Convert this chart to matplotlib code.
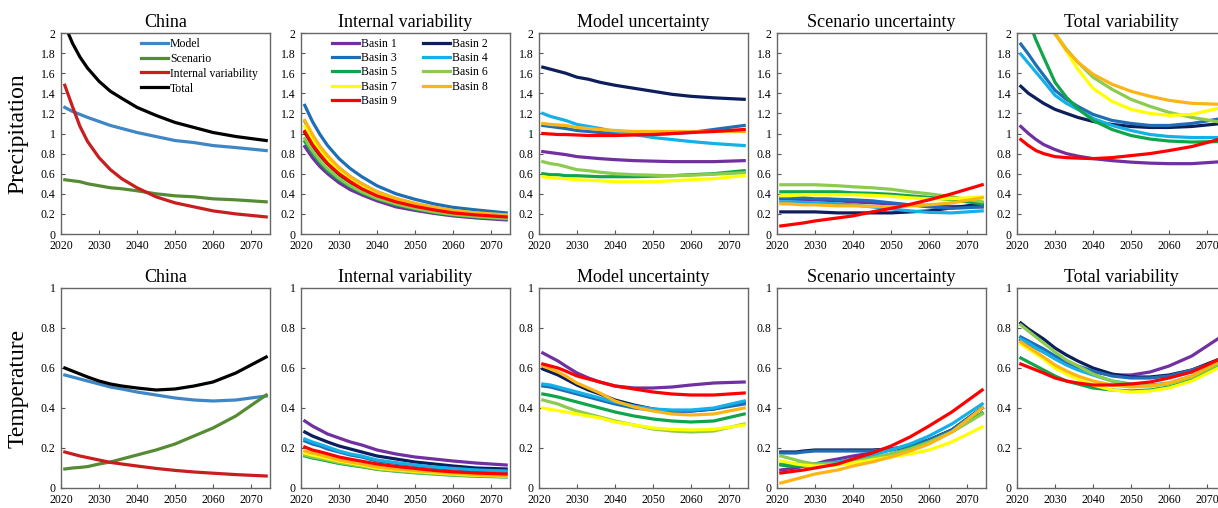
import numpy as np
import matplotlib.pyplot as plt

plt.rcParams['font.family'] = ['Liberation Serif', 'DejaVu Serif']

years = [2021, 2023, 2025, 2027, 2030, 2033, 2036, 2040, 2045, 2050, 2055, 2060, 2066, 2074]

# China, precipitation
pr_china_model = [1.26, 1.22, 1.19, 1.16, 1.12, 1.08, 1.05, 1.01, 0.97, 0.93, 0.91, 0.88, 0.86, 0.83]
pr_china_scenario = [0.54, 0.53, 0.52, 0.50, 0.48, 0.46, 0.45, 0.43, 0.40, 0.38, 0.37, 0.35, 0.34, 0.32]
pr_china_internal = [1.48, 1.27, 1.07, 0.92, 0.76, 0.64, 0.55, 0.46, 0.37, 0.31, 0.27, 0.23, 0.20, 0.17]
pr_china_total = [2.08, 1.90, 1.76, 1.65, 1.52, 1.42, 1.35, 1.26, 1.18, 1.11, 1.06, 1.01, 0.97, 0.93]

# China, temperature
tas_china_model = [0.565, 0.555, 0.545, 0.535, 0.52, 0.505, 0.495, 0.48, 0.465, 0.45, 0.44, 0.435, 0.44, 0.46]
tas_china_scenario = [0.095, 0.10, 0.103, 0.107, 0.12, 0.13, 0.145, 0.165, 0.19, 0.22, 0.26, 0.30, 0.36, 0.465]
tas_china_internal = [0.18, 0.17, 0.16, 0.152, 0.14, 0.128, 0.12, 0.11, 0.098, 0.088, 0.08, 0.074, 0.067, 0.06]
tas_china_total = [0.60, 0.585, 0.57, 0.555, 0.535, 0.52, 0.51, 0.50, 0.49, 0.495, 0.51, 0.53, 0.575, 0.655]

basin_names = ['Basin %d' % i for i in range(1, 10)]
basin_colors = ['#7030A0', '#0C1E5B', '#1F6EB5', '#14B0E8', '#10A54A',
                '#8DCB4E', '#FFFF00', '#FDB515', '#FF0000']

# basins 1..9, precipitation
pr_internal = [
    [0.87, 0.76, 0.67, 0.60, 0.51, 0.44, 0.39, 0.33, 0.27, 0.235, 0.205, 0.18, 0.16, 0.14],
    [1.01, 0.88, 0.78, 0.70, 0.59, 0.51, 0.45, 0.38, 0.32, 0.27, 0.24, 0.21, 0.19, 0.17],
    [1.28, 1.12, 0.99, 0.88, 0.75, 0.65, 0.57, 0.48, 0.40, 0.345, 0.30, 0.265, 0.24, 0.21],
    [1.12, 0.98, 0.87, 0.77, 0.66, 0.57, 0.50, 0.42, 0.35, 0.30, 0.265, 0.23, 0.21, 0.19],
    [0.92, 0.81, 0.71, 0.63, 0.54, 0.47, 0.41, 0.35, 0.29, 0.25, 0.215, 0.19, 0.17, 0.15],
    [0.95, 0.83, 0.73, 0.65, 0.555, 0.48, 0.42, 0.355, 0.30, 0.255, 0.22, 0.195, 0.175, 0.155],
    [1.07, 0.94, 0.83, 0.74, 0.63, 0.54, 0.48, 0.40, 0.335, 0.29, 0.25, 0.22, 0.20, 0.18],
    [1.13, 0.99, 0.87, 0.78, 0.66, 0.57, 0.50, 0.42, 0.355, 0.305, 0.265, 0.235, 0.21, 0.19],
    [1.02, 0.89, 0.79, 0.70, 0.60, 0.52, 0.45, 0.38, 0.32, 0.275, 0.24, 0.21, 0.19, 0.17],
]
pr_model = [
    [0.82, 0.81, 0.80, 0.79, 0.77, 0.76, 0.75, 0.74, 0.73, 0.725, 0.72, 0.72, 0.72, 0.73],
    [1.66, 1.64, 1.62, 1.60, 1.56, 1.54, 1.51, 1.48, 1.45, 1.42, 1.39, 1.37, 1.355, 1.34],
    [1.08, 1.07, 1.06, 1.05, 1.03, 1.02, 1.01, 1.00, 0.99, 0.99, 1.00, 1.01, 1.04, 1.08],
    [1.20, 1.17, 1.15, 1.13, 1.09, 1.07, 1.05, 1.02, 0.99, 0.96, 0.94, 0.92, 0.90, 0.88],
    [0.60, 0.59, 0.59, 0.58, 0.58, 0.575, 0.57, 0.57, 0.57, 0.575, 0.58, 0.59, 0.60, 0.63],
    [0.72, 0.70, 0.69, 0.67, 0.64, 0.63, 0.615, 0.60, 0.59, 0.585, 0.58, 0.585, 0.595, 0.61],
    [0.57, 0.56, 0.555, 0.55, 0.54, 0.535, 0.53, 0.52, 0.52, 0.52, 0.53, 0.54, 0.55, 0.58],
    [1.10, 1.09, 1.085, 1.08, 1.06, 1.05, 1.04, 1.03, 1.02, 1.02, 1.02, 1.02, 1.02, 1.02],
    [1.00, 0.995, 0.99, 0.99, 0.985, 0.98, 0.98, 0.98, 0.985, 0.99, 1.00, 1.01, 1.02, 1.04],
]
pr_scenario = [
    [0.35, 0.35, 0.345, 0.34, 0.34, 0.335, 0.33, 0.32, 0.31, 0.30, 0.29, 0.285, 0.275, 0.27],
    [0.22, 0.22, 0.22, 0.22, 0.22, 0.215, 0.21, 0.21, 0.21, 0.21, 0.22, 0.23, 0.26, 0.30],
    [0.36, 0.36, 0.36, 0.36, 0.35, 0.35, 0.345, 0.34, 0.33, 0.31, 0.29, 0.27, 0.255, 0.27],
    [0.32, 0.32, 0.32, 0.315, 0.31, 0.305, 0.30, 0.29, 0.27, 0.25, 0.23, 0.215, 0.21, 0.23],
    [0.42, 0.42, 0.42, 0.42, 0.42, 0.42, 0.42, 0.41, 0.405, 0.395, 0.38, 0.365, 0.34, 0.30],
    [0.49, 0.49, 0.49, 0.49, 0.49, 0.485, 0.48, 0.47, 0.46, 0.445, 0.42, 0.40, 0.37, 0.32],
    [0.38, 0.38, 0.385, 0.39, 0.39, 0.39, 0.39, 0.39, 0.385, 0.375, 0.36, 0.35, 0.35, 0.37],
    [0.30, 0.30, 0.295, 0.29, 0.29, 0.285, 0.28, 0.28, 0.275, 0.27, 0.28, 0.29, 0.31, 0.36],
    [0.08, 0.09, 0.10, 0.11, 0.13, 0.145, 0.16, 0.18, 0.22, 0.255, 0.295, 0.34, 0.40, 0.49],
]
pr_total = [
    [1.07, 1.00, 0.94, 0.89, 0.84, 0.80, 0.775, 0.75, 0.73, 0.715, 0.705, 0.70, 0.70, 0.72],
    [1.47, 1.40, 1.35, 1.30, 1.24, 1.20, 1.16, 1.12, 1.09, 1.07, 1.06, 1.06, 1.07, 1.10],
    [1.89, 1.79, 1.68, 1.58, 1.43, 1.34, 1.27, 1.19, 1.13, 1.10, 1.08, 1.08, 1.10, 1.15],
    [1.79, 1.70, 1.61, 1.52, 1.38, 1.30, 1.24, 1.15, 1.08, 1.03, 0.99, 0.97, 0.96, 0.96],
    [2.35, 2.13, 1.93, 1.76, 1.51, 1.36, 1.25, 1.13, 1.04, 0.98, 0.945, 0.925, 0.915, 0.92],
    [2.80, 2.55, 2.35, 2.20, 2.00, 1.84, 1.71, 1.56, 1.44, 1.34, 1.27, 1.21, 1.16, 1.11],
    [2.90, 2.60, 2.40, 2.22, 2.00, 1.82, 1.64, 1.45, 1.32, 1.24, 1.20, 1.18, 1.19, 1.26],
    [3.20, 2.90, 2.60, 2.35, 1.99, 1.83, 1.71, 1.59, 1.49, 1.42, 1.37, 1.33, 1.30, 1.29],
    [0.94, 0.88, 0.83, 0.80, 0.77, 0.76, 0.755, 0.75, 0.76, 0.78, 0.80, 0.83, 0.87, 0.95],
]

# basins 1..9, temperature
tas_internal = [
    [0.335, 0.31, 0.29, 0.27, 0.25, 0.23, 0.215, 0.19, 0.17, 0.155, 0.145, 0.135, 0.125, 0.115],
    [0.28, 0.26, 0.245, 0.23, 0.21, 0.195, 0.18, 0.16, 0.145, 0.13, 0.12, 0.11, 0.10, 0.095],
    [0.235, 0.22, 0.21, 0.195, 0.18, 0.165, 0.155, 0.135, 0.123, 0.112, 0.102, 0.095, 0.088, 0.083],
    [0.245, 0.23, 0.218, 0.205, 0.185, 0.17, 0.16, 0.14, 0.127, 0.115, 0.105, 0.098, 0.09, 0.085],
    [0.16, 0.15, 0.143, 0.135, 0.123, 0.114, 0.106, 0.093, 0.084, 0.076, 0.07, 0.064, 0.059, 0.055],
    [0.165, 0.155, 0.148, 0.14, 0.127, 0.118, 0.109, 0.095, 0.086, 0.078, 0.072, 0.066, 0.061, 0.057],
    [0.175, 0.165, 0.157, 0.148, 0.135, 0.125, 0.115, 0.10, 0.091, 0.083, 0.076, 0.07, 0.064, 0.06],
    [0.185, 0.175, 0.166, 0.156, 0.14, 0.13, 0.12, 0.105, 0.095, 0.087, 0.08, 0.074, 0.067, 0.062],
    [0.205, 0.19, 0.181, 0.171, 0.155, 0.144, 0.134, 0.12, 0.108, 0.098, 0.088, 0.081, 0.075, 0.07],
]
tas_model = [
    [0.675, 0.655, 0.635, 0.61, 0.575, 0.55, 0.53, 0.51, 0.50, 0.50, 0.505, 0.515, 0.525, 0.53],
    [0.595, 0.58, 0.565, 0.545, 0.515, 0.49, 0.47, 0.44, 0.415, 0.395, 0.385, 0.385, 0.395, 0.43],
    [0.51, 0.505, 0.495, 0.485, 0.47, 0.455, 0.44, 0.42, 0.40, 0.39, 0.385, 0.385, 0.395, 0.42],
    [0.52, 0.515, 0.505, 0.495, 0.48, 0.465, 0.45, 0.43, 0.41, 0.395, 0.39, 0.39, 0.40, 0.435],
    [0.47, 0.463, 0.455, 0.445, 0.43, 0.415, 0.40, 0.38, 0.36, 0.345, 0.335, 0.33, 0.335, 0.37],
    [0.44, 0.43, 0.42, 0.405, 0.385, 0.37, 0.355, 0.335, 0.315, 0.295, 0.285, 0.28, 0.285, 0.32],
    [0.40, 0.393, 0.387, 0.38, 0.37, 0.36, 0.35, 0.33, 0.315, 0.30, 0.293, 0.29, 0.293, 0.315],
    [0.61, 0.595, 0.58, 0.56, 0.525, 0.50, 0.475, 0.435, 0.405, 0.385, 0.37, 0.365, 0.37, 0.40],
    [0.62, 0.61, 0.60, 0.585, 0.56, 0.545, 0.53, 0.51, 0.495, 0.48, 0.47, 0.465, 0.465, 0.475],
]
tas_scenario = [
    [0.09, 0.095, 0.10, 0.11, 0.12, 0.135, 0.145, 0.16, 0.175, 0.19, 0.21, 0.24, 0.29, 0.40],
    [0.18, 0.18, 0.18, 0.185, 0.19, 0.19, 0.19, 0.19, 0.19, 0.195, 0.21, 0.24, 0.29, 0.40],
    [0.175, 0.175, 0.175, 0.18, 0.185, 0.185, 0.185, 0.185, 0.185, 0.195, 0.21, 0.24, 0.29, 0.40],
    [0.12, 0.12, 0.12, 0.12, 0.12, 0.125, 0.13, 0.145, 0.165, 0.19, 0.22, 0.26, 0.32, 0.42],
    [0.115, 0.11, 0.11, 0.11, 0.11, 0.115, 0.12, 0.13, 0.15, 0.17, 0.20, 0.23, 0.28, 0.375],
    [0.16, 0.15, 0.14, 0.13, 0.12, 0.12, 0.12, 0.13, 0.15, 0.17, 0.195, 0.23, 0.28, 0.37],
    [0.135, 0.128, 0.12, 0.115, 0.11, 0.112, 0.115, 0.125, 0.14, 0.155, 0.17, 0.19, 0.23, 0.305],
    [0.025, 0.035, 0.045, 0.055, 0.07, 0.08, 0.09, 0.11, 0.13, 0.155, 0.185, 0.22, 0.28, 0.40],
    [0.075, 0.08, 0.085, 0.09, 0.10, 0.11, 0.12, 0.145, 0.175, 0.21, 0.255, 0.31, 0.38, 0.49],
]
tas_total = [
    [0.74, 0.72, 0.70, 0.68, 0.65, 0.62, 0.60, 0.58, 0.565, 0.565, 0.58, 0.61, 0.66, 0.76],
    [0.825, 0.795, 0.77, 0.745, 0.70, 0.665, 0.635, 0.60, 0.57, 0.555, 0.555, 0.565, 0.59, 0.65],
    [0.755, 0.735, 0.715, 0.695, 0.66, 0.635, 0.61, 0.585, 0.56, 0.55, 0.55, 0.56, 0.59, 0.64],
    [0.745, 0.725, 0.70, 0.68, 0.645, 0.615, 0.59, 0.565, 0.535, 0.52, 0.515, 0.525, 0.56, 0.63],
    [0.65, 0.63, 0.61, 0.59, 0.56, 0.535, 0.52, 0.50, 0.49, 0.485, 0.49, 0.505, 0.54, 0.62],
    [0.815, 0.785, 0.755, 0.725, 0.68, 0.64, 0.61, 0.57, 0.535, 0.515, 0.51, 0.52, 0.555, 0.63],
    [0.72, 0.695, 0.67, 0.645, 0.60, 0.57, 0.545, 0.515, 0.49, 0.48, 0.485, 0.50, 0.535, 0.61],
    [0.73, 0.705, 0.68, 0.655, 0.615, 0.585, 0.56, 0.535, 0.515, 0.505, 0.51, 0.525, 0.56, 0.64],
    [0.62, 0.605, 0.59, 0.575, 0.55, 0.535, 0.525, 0.515, 0.515, 0.52, 0.53, 0.55, 0.58, 0.65],
]

china_labels = ['Model', 'Scenario', 'Internal variability', 'Total']
china_colors = ['#3F86C5', '#568B35', '#C81E1E', '#000000']
titles = ['China', 'Internal variability', 'Model uncertainty',
          'Scenario uncertainty', 'Total variability']

LW = 2.3


def style_axes(ax, title, ymax, step):
    ax.set_xlim(2020, 2075)
    ax.set_ylim(0, ymax)
    ax.set_xticks(range(2020, 2071, 10))
    yt = np.round(np.arange(0, ymax + step / 2, step), 1)
    ax.set_yticks(yt)
    ax.set_yticklabels(['%g' % v for v in yt])
    ax.tick_params(direction='in', length=3, width=0.8, labelsize=8.5,
                   color='#555555', pad=4)
    for s in ax.spines.values():
        s.set_color('#666666')
        s.set_linewidth(1.0)
    ax.set_title(title, fontsize=13, pad=4)


def plot_basins(ax, data):
    lines = []
    for vals, name, c in zip(data, basin_names, basin_colors):
        ln, = ax.plot(years, vals, color=c, lw=LW, label=name)
        lines.append(ln)
    return lines


fig = plt.figure(figsize=(12.18, 5.08), dpi=100)
W, H = 1218.0, 508.0
lefts = [61, 301, 539, 777, 1017]
rows = [(33, 234), (288, 488)]

panels = [
    [(pr_china_model, pr_china_scenario, pr_china_internal, pr_china_total),
     pr_internal, pr_model, pr_scenario, pr_total],
    [(tas_china_model, tas_china_scenario, tas_china_internal, tas_china_total),
     tas_internal, tas_model, tas_scenario, tas_total],
]
ylims = [(2, 0.2), (1, 0.2)]
ylabels = ['Precipitation', 'Temperature']

for r, (top, bottom) in enumerate(rows):
    for c, left in enumerate(lefts):
        ax = fig.add_axes([left / W, 1 - bottom / H, 209 / W, (bottom - top) / H])
        style_axes(ax, titles[c], *ylims[r])
        if c == 0:
            for vals, lab, col in zip(panels[r][0], china_labels, china_colors):
                ax.plot(years, vals, color=col, lw=LW, label=lab)
            if r == 0:
                ax.legend(loc='upper left', bbox_to_anchor=(0.36, 1.0),
                          borderaxespad=0, frameon=False, fontsize=8.5,
                          handlelength=2.3, handletextpad=0.15,
                          labelspacing=0.25)
        else:
            lines = plot_basins(ax, panels[r][c])
            if r == 0 and c == 1:
                order = [0, 2, 4, 6, 8, 1, 3, 5, 7]
                ax.legend([lines[i] for i in order],
                          [basin_names[i] for i in order],
                          ncol=2, loc='upper left', bbox_to_anchor=(0.125, 1.0),
                          borderaxespad=0, frameon=False, fontsize=8.5,
                          handlelength=2.3, handletextpad=0.15,
                          labelspacing=0.2, columnspacing=2.2)
    fig.text(18 / W, 1 - (top + bottom) / 2 / H, ylabels[r], rotation=90,
             fontsize=17, ha='center', va='center')

fig.savefig('out.png', dpi=100)
